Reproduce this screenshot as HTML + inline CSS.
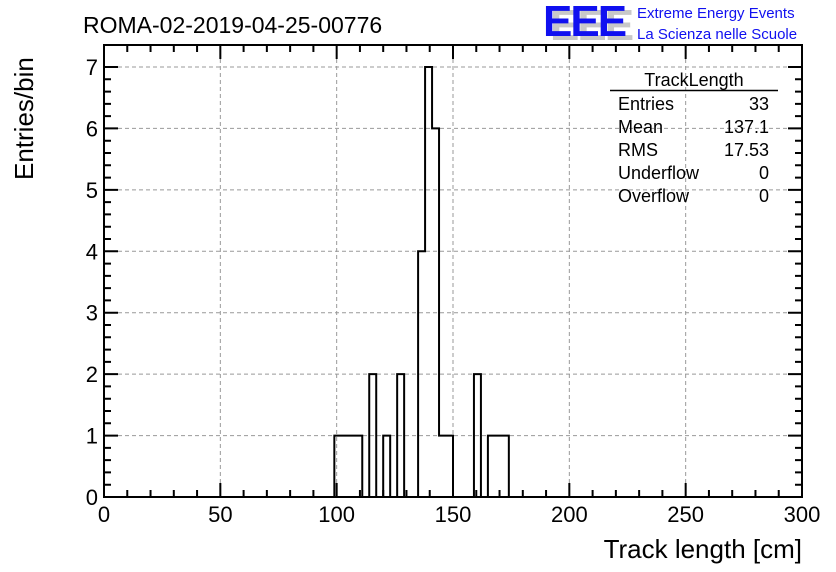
<!DOCTYPE html>
<html><head><meta charset="utf-8"><style>
body{margin:0;background:#fff;}
svg{display:block;font-family:"Liberation Sans",sans-serif;}
</style></head><body>
<svg id="c" width="836" height="572" viewBox="0 0 836 572">
<rect width="836" height="572" fill="#fff"/>
<text x="83" y="33" font-size="23">ROMA-02-2019-04-25-00776</text>
<g>
<text x="550" y="40" font-size="44" font-weight="bold" fill="#c8c8c8" letter-spacing="-2">EEE</text>
<text x="543" y="36" font-size="44" font-weight="bold" fill="#1010f0" letter-spacing="-2">EEE</text>
</g>
<text x="637" y="18" font-size="15" fill="#1010f0">Extreme Energy Events</text>
<text x="637" y="39" font-size="15" fill="#1010f0">La Scienza nelle Scuole</text>
<g id="grid"></g>
<g id="ticks"></g>
<path id="hist" fill="none" stroke="#000" stroke-width="2"/>
<rect x="104" y="45" width="698" height="452" fill="none" stroke="#000" stroke-width="2"/>
<g id="labels"></g>
<text x="802" y="558" font-size="26" text-anchor="end">Track length [cm]</text>
<text transform="translate(33,180) rotate(-90)" font-size="26">Entries/bin</text>
<g font-size="18">
<text x="694" y="86" text-anchor="middle">TrackLength</text>
<line x1="610" y1="90.5" x2="778" y2="90.5" stroke="#000" stroke-width="1.5"/>
<text x="618" y="110">Entries</text><text x="769" y="110" text-anchor="end">33</text>
<text x="618" y="133">Mean</text><text x="769" y="133" text-anchor="end">137.1</text>
<text x="618" y="156">RMS</text><text x="769" y="156" text-anchor="end">17.53</text>
<text x="618" y="179">Underflow</text><text x="769" y="179" text-anchor="end">0</text>
<text x="618" y="202">Overflow</text><text x="769" y="202" text-anchor="end">0</text>
</g>
</svg>
<script>
// bins of width 3 from 0 to 300; nonzero bins listed by lower edge
const binLows=[99,102,105,108,114,120,126,135,138,141,144,147,159,165,168,171];
const binCounts=[1,1,1,1,2,1,2,4,7,6,1,1,2,1,1,1];
const binWidth=3;
const xTicks=[0,50,100,150,200,250,300];
const yTicks=[0,1,2,3,4,5,6,7];
const X=v=>104+v*(698/300);
const Y=v=>497-v*(430/7);
const NS="http://www.w3.org/2000/svg";
function mk(tag,attrs,parent){const e=document.createElementNS(NS,tag);for(const k in attrs)e.setAttribute(k,attrs[k]);parent.appendChild(e);return e;}
const grid=document.getElementById('grid'),ticks=document.getElementById('ticks'),labels=document.getElementById('labels');
xTicks.forEach(t=>{
 if(t>0&&t<300){const g=mk('line',{x1:X(t),x2:X(t),y1:45,y2:497,stroke:'#999','stroke-dasharray':'4,3'},grid);
 
 }
 const l=mk('text',{x:X(t),y:522,'font-size':22,'text-anchor':'middle'},labels);l.textContent=t;
 
 
});
yTicks.forEach(t=>{
 if(t>0){const g=mk('line',{x1:104,x2:802,y1:Y(t),y2:Y(t),stroke:'#999','stroke-dasharray':'4,3'},grid);
 
 }
 const l=mk('text',{x:98,y:Y(t)+8,'font-size':22,'text-anchor':'end'},labels);l.textContent=t;
 
 
});
let d='';
for(let v=0;v<=300;v+=10){const len=v%50===0?14:7;d+=`M${X(v)},497v${-len}M${X(v)},45v${len}`;}
for(let v=0;v<=7.001;v+=0.2){const len=Math.abs(v-Math.round(v))<1e-6?14:7;d+=`M104,${Y(v)}h${len}M802,${Y(v)}h${-len}`;}
mk('path',{d:d,stroke:'#000','stroke-width':2,fill:'none'},ticks);
// build full histogram
const counts=new Array(100).fill(0);
binLows.forEach((lo,i)=>{counts[Math.round(lo/binWidth)]=binCounts[i];});
let p=`M${X(0)},${Y(0)}`;
for(let i=0;i<100;i++){p+=`L${X(i*binWidth)},${Y(counts[i])}L${X((i+1)*binWidth)},${Y(counts[i])}`;}
p+=`L${X(300)},${Y(0)}`;
document.getElementById('hist').setAttribute('d',p);
</script>
</body></html>
